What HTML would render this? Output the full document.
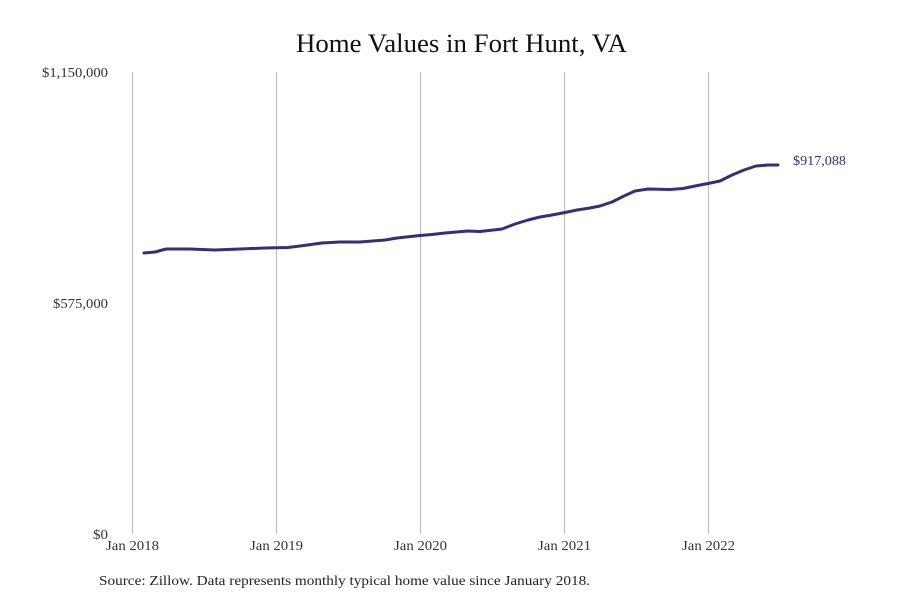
<!DOCTYPE html>
<html><head><meta charset="utf-8"><style>
body{margin:0;background:#fff;}
svg{display:block;font-family:"Liberation Serif",serif;}
</style></head><body>
<svg width="900" height="600" viewBox="0 0 900 600" xmlns="http://www.w3.org/2000/svg">
<rect width="900" height="600" fill="#fff"/>
<text x="296" y="52" font-size="26" fill="#111" textLength="331" lengthAdjust="spacingAndGlyphs">Home Values in Fort Hunt, VA</text>
<g stroke="#bbb" stroke-width="1">
<line x1="132.5" y1="72" x2="132.5" y2="534"/>
<line x1="276.5" y1="72" x2="276.5" y2="534"/>
<line x1="420.5" y1="72" x2="420.5" y2="534"/>
<line x1="564.5" y1="72" x2="564.5" y2="534"/>
<line x1="708.5" y1="72" x2="708.5" y2="534"/>
</g>
<g font-size="14" fill="#333">
<text x="42" y="77" textLength="66" lengthAdjust="spacingAndGlyphs">$1,150,000</text>
<text x="53" y="308" textLength="55" lengthAdjust="spacingAndGlyphs">$575,000</text>
<text x="93" y="539" textLength="15" lengthAdjust="spacingAndGlyphs">$0</text>
</g>
<g font-size="14" fill="#333">
<text x="106" y="550" textLength="53" lengthAdjust="spacingAndGlyphs">Jan 2018</text>
<text x="250" y="550" textLength="53" lengthAdjust="spacingAndGlyphs">Jan 2019</text>
<text x="394" y="550" textLength="53" lengthAdjust="spacingAndGlyphs">Jan 2020</text>
<text x="538" y="550" textLength="53" lengthAdjust="spacingAndGlyphs">Jan 2021</text>
<text x="682" y="550" textLength="53" lengthAdjust="spacingAndGlyphs">Jan 2022</text>
</g>
<polyline fill="none" stroke="#33307a" stroke-width="3" stroke-linejoin="round" stroke-linecap="round"
points="144,253 155,252 166,249 190,249 215,250 240,249 265,248 288,247.5 300,246 322,243 340,242 360,242 385,240 397,238 420,235.5 432,234.5 445,233 468,231 480,231.5 502,229 515,224 528,220 540,217 552,215 565,212.5 577,210 590,208 600,206 612,202 624,196 635,191 648,189 670,189.5 683,188.5 695,186 708,183.5 720,181 732,175 744,170 756,166 768,165 778,165"/>
<text x="793" y="165" font-size="14" fill="#33307a" textLength="53" lengthAdjust="spacingAndGlyphs">$917,088</text>
<text x="99" y="585" font-size="14" fill="#222" textLength="491" lengthAdjust="spacingAndGlyphs">Source: Zillow. Data represents monthly typical home value since January 2018.</text>
</svg>
</body></html>
